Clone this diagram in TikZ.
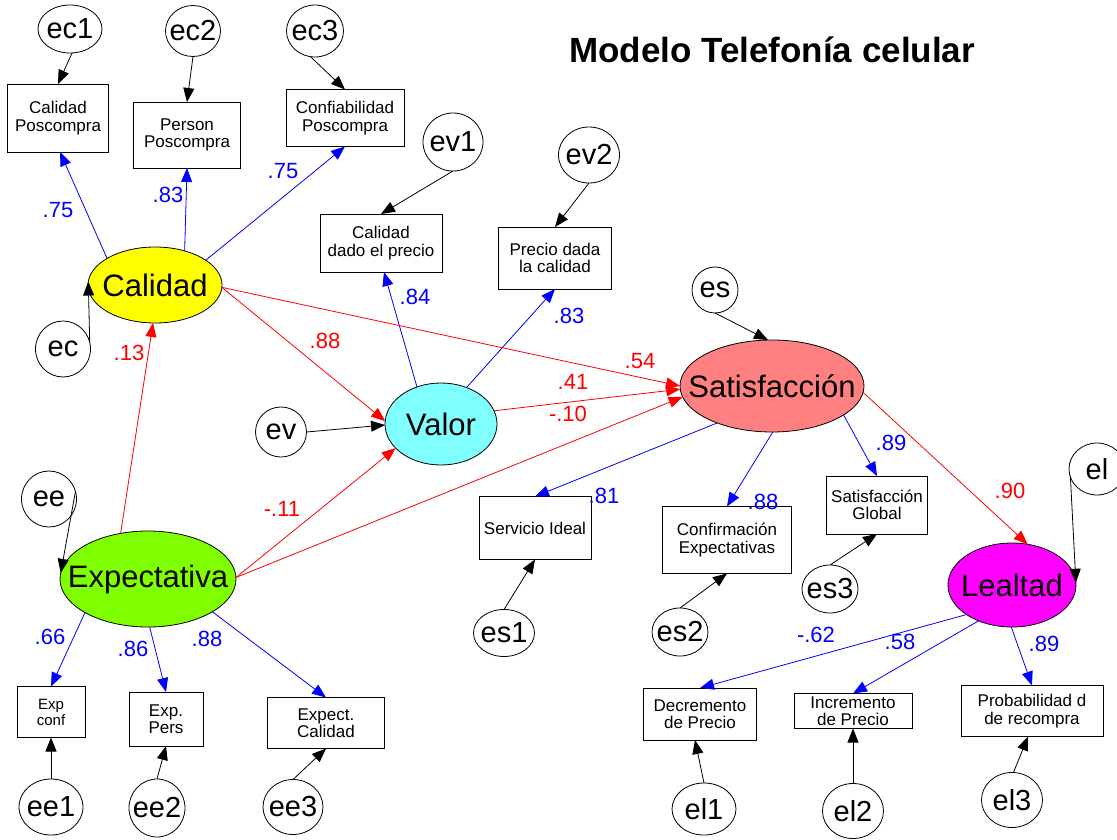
\documentclass[tikz,border=0pt]{standalone}
\usepackage{fontspec}
\setmainfont{Liberation Sans}
\usetikzlibrary{shapes.geometric,arrows.meta}
\definecolor{latY}{HTML}{FFFF00}
\definecolor{latG}{HTML}{80FF00}
\definecolor{latC}{HTML}{80FFFF}
\definecolor{latS}{HTML}{FF8080}
\definecolor{latM}{HTML}{FF00FF}
\newcommand{\zw}[1]{\makebox[0pt]{#1}}
\tikzset{
  lat/.style={ellipse, draw, line width=0.8pt, inner sep=0pt, outer sep=0pt,
              font=\fontsize{31}{33}\selectfont},
  err/.style={ellipse, draw, fill=white, line width=0.8pt, inner sep=0pt, outer sep=0pt,
              font=\fontsize{29}{31}\selectfont},
  obs/.style={rectangle, draw, fill=white, line width=0.8pt, inner sep=0pt, outer sep=0pt,
              align=center, font=\fontsize{17}{17.5}\selectfont},
  coefb/.style={text=blue, inner sep=0pt, font=\fontsize{22}{24}\selectfont},
  coefr/.style={text=red, inner sep=0pt, font=\fontsize{22}{24}\selectfont},
  arr/.style={-{Triangle[length=14pt,width=11pt]}, line width=0.8pt},
  blk/.style={arr, black},
  blu/.style={arr, blue},
  rd/.style={arr, red},
}
\begin{document}
\begin{tikzpicture}[x=1pt,y=-1pt]
\useasboundingbox (0,0) rectangle (1117,840);
\clip (0,0) rectangle (1117,840);

% title
\node[font=\bfseries\fontsize{35}{40}\selectfont] (title) at (772,50) {Modelo Telefonía celular};

% latent variables
\node[lat, fill=latY, minimum width=134pt, minimum height=76pt] (cal) at (155,285) {\zw{Calidad}};
\node[lat, fill=latG, minimum width=176pt, minimum height=96pt] (exp) at (148,579) {\zw{Expectativa}};
\node[lat, fill=latC, minimum width=112pt, minimum height=82pt] (val) at (441,424) {\zw{Valor}};
\node[lat, fill=latS, minimum width=184pt, minimum height=92pt] (sat) at (772,386) {\zw{Satisfacción}};
\node[lat, fill=latM, minimum width=128pt, minimum height=84pt] (lea) at (1012,585) {\zw{Lealtad}};

% observed indicators
\node[obs, minimum width=101pt, minimum height=68pt] (cp)  at (58,118)  {Calidad\\Poscompra};
\node[obs, minimum width=107pt, minimum height=66pt] (pp)  at (187,135) {Person\\Poscompra};
\node[obs, minimum width=118pt, minimum height=57pt] (cnp) at (345,118) {Confiabilidad\\Poscompra};
\node[obs, minimum width=122pt, minimum height=58pt] (cdp) at (381,243) {Calidad\\dado el precio};
\node[obs, minimum width=113pt, minimum height=62pt] (pdc) at (555,258) {Precio dada\\la calidad};
\node[obs, minimum width=112pt, minimum height=63pt] (si)  at (535,528) {Servicio Ideal};
\node[obs, minimum width=129pt, minimum height=67pt] (ce)  at (727,540) {Confirmación\\Expectativas};
\node[obs, minimum width=101pt, minimum height=58pt] (sg)  at (877,505) {Satisfacción\\Global};
\node[obs, minimum width=113pt, minimum height=52pt] (dp)  at (700,714) {Decremento\\de Precio};
\node[obs, minimum width=118pt, minimum height=35pt] (ip)  at (853,711) {Incremento\\de Precio};
\node[obs, minimum width=142pt, minimum height=51pt] (pr)  at (1032,711) {Probabilidad d\\de recompra};
\node[obs, minimum width=68pt, minimum height=51pt, font=\fontsize{15}{16}\selectfont] (xc) at (51,712) {Exp\\conf};
\node[obs, minimum width=74pt, minimum height=54pt]  (xp)  at (166,719) {Exp.\\Pers};
\node[obs, minimum width=117pt, minimum height=51pt] (xq)  at (326,723) {Expect.\\Calidad};

% error terms
\node[err, minimum width=64pt, minimum height=48pt] (ec1) at (70,29)  {\zw{ec1}};
\node[err, minimum width=55pt, minimum height=51pt] (ec2) at (193,31) {\zw{ec2}};
\node[err, minimum width=57pt, minimum height=52pt] (ec3) at (315,31) {\zw{ec3}};
\node[err, minimum width=55pt, minimum height=56pt] (ec)  at (63,349) {\zw{ec}};
\node[err, minimum width=55pt, minimum height=56pt] (ee)  at (49,499) {\zw{ee}};
\node[err, minimum width=51pt, minimum height=50pt] (ev)  at (281,432) {\zw{ev}};
\node[err, minimum width=60pt, minimum height=58pt] (ev1) at (453,142) {\zw{ev1}};
\node[err, minimum width=61pt, minimum height=56pt] (ev2) at (589,155) {\zw{ev2}};
\node[err, minimum width=46pt, minimum height=46pt] (es)  at (715,290) {\zw{es}};
\node[err, minimum width=61pt, minimum height=47pt] (es1) at (504,633) {\zw{es1}};
\node[err, minimum width=56pt, minimum height=48pt] (es2) at (680,632) {\zw{es2}};
\node[err, minimum width=56pt, minimum height=48pt] (es3) at (830,589) {\zw{es3}};
\node[err, minimum width=56pt, minimum height=52pt] (el)  at (1097,469) {\zw{el}};
\node[err, minimum width=64pt, minimum height=52pt] (el1) at (704,809) {\zw{el1}};
\node[err, minimum width=61pt, minimum height=55pt] (el2) at (853,811) {\zw{el2}};
\node[err, minimum width=61pt, minimum height=55pt] (el3) at (1012,800) {\zw{el3}};
\node[err, minimum width=64pt, minimum height=56pt] (ee1) at (51,807) {\zw{ee1}};
\node[err, minimum width=56pt, minimum height=58pt] (ee2) at (157,808) {\zw{ee2}};
\node[err, minimum width=60pt, minimum height=55pt] (ee3) at (293,807) {\zw{ee3}};

% error paths
\draw[blk] (ec1.-85) -- (cp.north);
\draw[blk] (ec2.south) -- (pp.north);
\draw[blk] (ec3.-100) -- (cnp.north);
\draw[blk] (ec.14) -- (cal.177);
\draw[blk] (ee.16) -- (exp.176);
\draw[blk] (ev.0) -- (val.181);
\draw[blk] (ev1.south) -- (cdp.north);
\draw[blk] (ev2.south) -- (pdc.north);
\draw[blk] (es.south) -- (sat.95);
\draw[blk] (es1.north) -- (si.south);
\draw[blk] (es2.north) -- (ce.south);
\draw[blk] (es3.north) -- (sg.south);
\draw[blk] (el.197) -- (lea.2);
\draw[blk] (el1.north) -- ([xshift=-5pt]dp.south);
\draw[blk] (el2.north) -- (ip.south);
\draw[blk] (el3.87) -- ([xshift=-4pt]pr.south);
\draw[blk] (ee1.north) -- (xc.south);
\draw[blk] (ee2.north) -- (xp.south);
\draw[blk] (ee3.north) -- (xq.south);

% measurement loadings
\draw[blu] (cal.151) -- ([xshift=2pt]cp.south);
\draw[blu] (cal.49) -- (pp.south);
\draw[blu] (cal.26) -- (cnp.south);
\draw[blu] (val.123) -- ([xshift=3pt]cdp.south);
\draw[blu] (val.55) -- (pdc.south);
\draw[blu] (sat.-146.5) -- (si.north);
\draw[blu] (sat.-89) -- (ce.north);
\draw[blu] (sat.-22) -- (sg.north);
\draw[blu] (lea.-147.5) -- (dp.north);
\draw[blu] (lea.-133) -- (ip.north);
\draw[blu] (lea.-91) -- (pr.north);
\draw[blu] (exp.-152) -- (xc.north);
\draw[blu] (exp.-88) -- (xp.north);
\draw[blu] (exp.-27) -- (xq.north);

% structural paths
\draw[rd] (cal.-2) -- (val.177);
\draw[rd] (cal.-2) -- (sat.180);
\draw[rd] (val.14) -- (sat.182);
\draw[rd] (exp.121) -- (cal.-93);
\draw[rd] (exp.1) -- (val.-152);
\draw[rd] (exp.1) -- (sat.187);
\draw[rd] (sat.-4) -- (lea.69);

% coefficients
\node[coefb] (k1)  at (58,210)  {.75};
\node[coefb] (k2)  at (168,195) {.83};
\node[coefb] (k3)  at (283,171) {.75};
\node[coefb] (k4)  at (415,297) {.84};
\node[coefb] (k5)  at (569,316) {.83};
\node[coefb] (k6)  at (604,496) {.81};
\node[coefb] (k7)  at (763,502) {.88};
\node[coefb] (k8)  at (891,443) {.89};
\node[coefb] (k9)  at (816,635) {-.62};
\node[coefb] (k10) at (900,642) {.58};
\node[coefb] (k11) at (1044,644) {.89};
\node[coefb] (k12) at (50,637)  {.66};
\node[coefb] (k13) at (133,649) {.86};
\node[coefb] (k14) at (207,639) {.88};
\node[coefr] (r1) at (129,353) {.13};
\node[coefr] (r2) at (325,341) {.88};
\node[coefr] (r3) at (282,509) {-.11};
\node[coefr] (r4) at (640,361) {.54};
\node[coefr] (r5) at (573,382) {.41};
\node[coefr] (r6) at (568,414) {-.10};
\node[coefr] (r7) at (1010,491) {.90};
\end{tikzpicture}
\end{document}
